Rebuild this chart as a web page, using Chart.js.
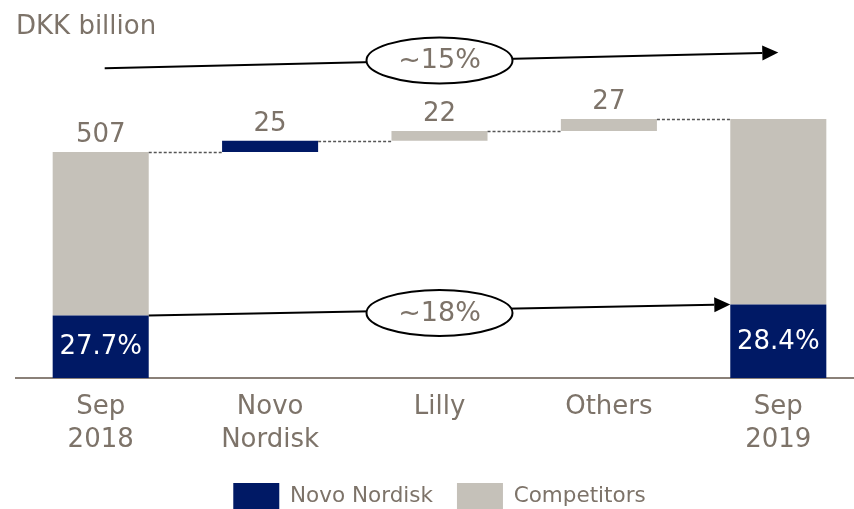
<!DOCTYPE html>
<html>
<head>
<meta charset="utf-8">
<script src="https://cdn.jsdelivr.net/npm/chart.js@4/dist/chart.umd.min.js"></script>
<style>
    html, body { margin: 0; padding: 0; overflow: hidden; background: #fff; }
    #wrap { width: 870px; height: 509px; }
</style>
</head>
<body>
<div id="wrap"><canvas id="chart" width="870" height="509"></canvas></div>
<script>
const categories = [["Sep", "2018"], ["Novo", "Nordisk"], "Lilly", "Others", ["Sep", "2019"]];
const startTotal = 507;
const changes = [25, 22, 27];
const changeOwner = ["Novo Nordisk", "Competitors", "Competitors"];
const endTotal = 581;
const nnShare = [27.7, 28.4];
const growthLabels = ["~15%", "~18%"];
// total-growth arrow sits above the bars (value space)
const topArrow = [695, 730];

const NAVY = "#001965";
const GREY = "#c5c1b9";
const TEXT = "#7d7369";
const FONT = "'DejaVu Sans', Verdana, sans-serif";

// build the floating bars
const levels = [startTotal];
changes.forEach((c) => levels.push(levels[levels.length - 1] + c));
const nnStart = startTotal * nnShare[0] / 100;
const nnEnd = endTotal * nnShare[1] / 100;

const nnData = [[0, nnStart]];
const compData = [[nnStart, startTotal]];
changes.forEach((c, i) => {
    const seg = [levels[i], levels[i + 1]];
    nnData.push(changeOwner[i] === "Novo Nordisk" ? seg : null);
    compData.push(changeOwner[i] === "Competitors" ? seg : null);
});
nnData.push([0, nnEnd]);
compData.push([nnEnd, endTotal]);
const valueLabels = [startTotal, ...changes, endTotal];

function arrow(ctx, x1, y1, x2, y2) {
    const a = Math.atan2(y2 - y1, x2 - x1);
    const len = 16, half = 7.5;
    ctx.beginPath();
    ctx.moveTo(x1, y1);
    ctx.lineTo(x2 - len * Math.cos(a), y2 - len * Math.sin(a));
    ctx.stroke();
    ctx.beginPath();
    ctx.moveTo(x2, y2);
    ctx.lineTo(x2 - len * Math.cos(a) + half * Math.sin(a), y2 - len * Math.sin(a) - half * Math.cos(a));
    ctx.lineTo(x2 - len * Math.cos(a) - half * Math.sin(a), y2 - len * Math.sin(a) + half * Math.cos(a));
    ctx.closePath();
    ctx.fill();
}

function bubble(ctx, cx, cy, text) {
    ctx.beginPath();
    ctx.ellipse(cx, cy, 73, 23, 0, 0, Math.PI * 2);
    ctx.fillStyle = "#fff";
    ctx.fill();
    ctx.lineWidth = 2;
    ctx.strokeStyle = "#000";
    ctx.stroke();
    ctx.fillStyle = TEXT;
    ctx.font = "27px " + FONT;
    ctx.textAlign = "center";
    ctx.textBaseline = "middle";
    ctx.fillText(text, cx, cy + 1);
}

const waterfallExtras = {
    id: "waterfallExtras",
    afterDatasetsDraw(chart) {
        const ctx = chart.ctx;
        const x = chart.scales.x;
        const y = chart.scales.y;
        const barW = chart.getDatasetMeta(1).data[0].width;
        const n = categories.length;
        ctx.save();

        // dashed connectors
        ctx.strokeStyle = "#555";
        ctx.lineWidth = 1.5;
        ctx.setLineDash([3, 2]);
        levels.forEach((lv, i) => {
            const py = Math.round(y.getPixelForValue(lv)) + 0.5;
            ctx.beginPath();
            ctx.moveTo(x.getPixelForValue(i) + barW / 2, py);
            ctx.lineTo(x.getPixelForValue(i + 1) - barW / 2, py);
            ctx.stroke();
        });
        ctx.setLineDash([]);

        // value labels on top
        ctx.fillStyle = TEXT;
        ctx.font = "26px " + FONT;
        ctx.textAlign = "center";
        ctx.textBaseline = "alphabetic";
        const tops = [startTotal, ...levels.slice(1, -1), endTotal];
        valueLabels.forEach((v, i) => {
            ctx.fillText(String(v), x.getPixelForValue(i), y.getPixelForValue(tops[i]) - 10);
        });

        // share labels inside navy bars
        ctx.fillStyle = "#fff";
        ctx.textBaseline = "middle";
        [[0, nnStart, nnShare[0]], [n - 1, nnEnd, nnShare[1]]].forEach(([i, v, s]) => {
            ctx.fillText(s.toFixed(1) + "%", x.getPixelForValue(i), (y.getPixelForValue(v) + y.getPixelForValue(0)) / 2 + 1);
        });

        // arrows
        ctx.strokeStyle = "#000";
        ctx.fillStyle = "#000";
        ctx.lineWidth = 2;
        const tx1 = x.getPixelForValue(0) + 4, ty1 = y.getPixelForValue(topArrow[0]);
        const tx2 = x.getPixelForValue(n - 1), ty2 = y.getPixelForValue(topArrow[1]);
        arrow(ctx, tx1, ty1, tx2, ty2);
        const bx1 = x.getPixelForValue(0) + barW / 2, by1 = y.getPixelForValue(nnStart);
        const bx2 = x.getPixelForValue(n - 1) - barW / 2, by2 = y.getPixelForValue(nnEnd);
        arrow(ctx, bx1, by1, bx2, by2);

        const mx = x.getPixelForValue(2);
        bubble(ctx, mx, ty1 + (ty2 - ty1) * (mx - tx1) / (tx2 - tx1), growthLabels[0]);
        bubble(ctx, mx, by1 + (by2 - by1) * (mx - bx1) / (bx2 - bx1) + 3, growthLabels[1]);
        ctx.restore();
    },
};

new Chart(document.getElementById("chart"), {
    type: "bar",
    data: {
        labels: categories,
        datasets: [
            { label: "Novo Nordisk", data: nnData, backgroundColor: NAVY },
            { label: "Competitors", data: compData, backgroundColor: GREY },
        ],
    },
    options: {
        responsive: false,
        animation: false,
        layout: { padding: { left: 16, right: 7, top: 0, bottom: -10 } },
        datasets: { bar: { barPercentage: 0.567, categoryPercentage: 1, grouped: false } },
        scales: {
            x: {
                stacked: true,
                grid: { display: false, drawTicks: false },
                border: { display: true, color: "#8a8078", width: 2 },
                ticks: {
                    color: TEXT,
                    font: { family: FONT, size: 26, lineHeight: 1.27 },
                    padding: 13,
                    maxRotation: 0,
                    autoSkip: false,
                },
                afterFit: (scale) => { scale.height = 81; },
            },
            y: { display: false, min: 0, max: 751 },
        },
        plugins: {
            title: {
                display: true,
                text: "DKK billion",
                align: "start",
                color: TEXT,
                font: { family: FONT, size: 26, weight: "normal" },
                padding: { top: 12, bottom: 0 },
            },
            legend: {
                position: "bottom",
                labels: {
                    boxWidth: 46,
                    boxHeight: 26,
                    color: TEXT,
                    font: { family: FONT, size: 21.5 },
                    padding: 24,
                },
            },
            tooltip: { enabled: false },
        },
    },
    plugins: [waterfallExtras],
});
</script>
</body>
</html>
